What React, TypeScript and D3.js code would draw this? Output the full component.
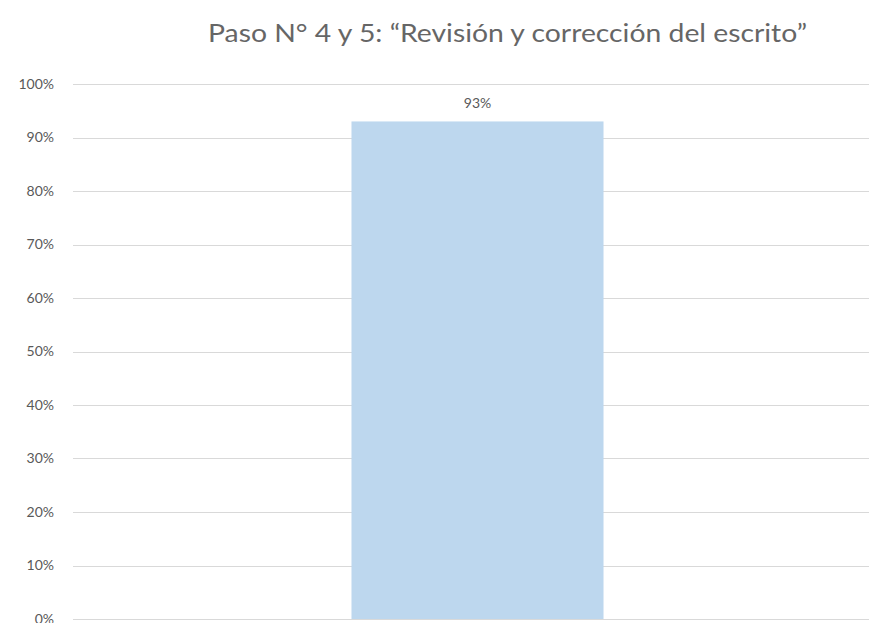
import React from "react";
import * as d3 from "d3";

const categories = ["Paso 4 y 5"];
const values = [0.93];
const yTicks = [0, 0.1, 0.2, 0.3, 0.4, 0.5, 0.6, 0.7, 0.8, 0.9, 1.0];
const title = "Paso N° 4 y 5: “Revisión y corrección del escrito”";

export default function App() {
  const W = 869;
  const H = 623;
  const y = d3.scaleLinear().domain([0, 1]).range([619, 84]);
  const x = d3
    .scaleBand<string>()
    .domain(categories)
    .range([73, 882])
    .paddingInner(0)
    .paddingOuter(1.105);
  const fmt = d3.format(".0%");
  const font = "Lato, 'Open Sans', sans-serif";
  const textColor = "#595959";

  return (
    <div style={{ position: "fixed", left: 0, top: 0 }}>
      <svg width={W} height={H} style={{ display: "block", background: "#fff" }}>
        <rect x={0} y={0} width={W} height={H} fill="#fff" />
        <text
          x={208}
          y={42}
          fontFamily={font}
          fontSize={25}
          fontWeight={400}
          fill="#666666"
          textLength={599}
          lengthAdjust="spacingAndGlyphs"
        >
          {title}
        </text>
        {yTicks.map((t) => (
          <g key={t}>
            <line
              x1={73}
              x2={882}
              y1={Math.round(y(t)) + 0.5}
              y2={Math.round(y(t)) + 0.5}
              stroke="#d9d9d9"
              strokeWidth={1}
            />
            <text
              x={54}
              y={y(t)}
              dy="0.35em"
              textAnchor="end"
              fontFamily={font}
              fontSize={14}
              fill={textColor}
            >
              {fmt(t)}
            </text>
          </g>
        ))}
        {categories.map((c, i) => (
          <g key={c}>
            <rect
              x={x(c)}
              y={y(values[i])}
              width={x.bandwidth()}
              height={y(0) - y(values[i])}
              fill="#bdd7ee"
            />
            <text
              x={(x(c) as number) + x.bandwidth() / 2}
              y={y(values[i]) - 13}
              textAnchor="middle"
              fontFamily={font}
              fontSize={14}
              fill={textColor}
            >
              {fmt(values[i])}
            </text>
          </g>
        ))}
      </svg>
    </div>
  );
}
